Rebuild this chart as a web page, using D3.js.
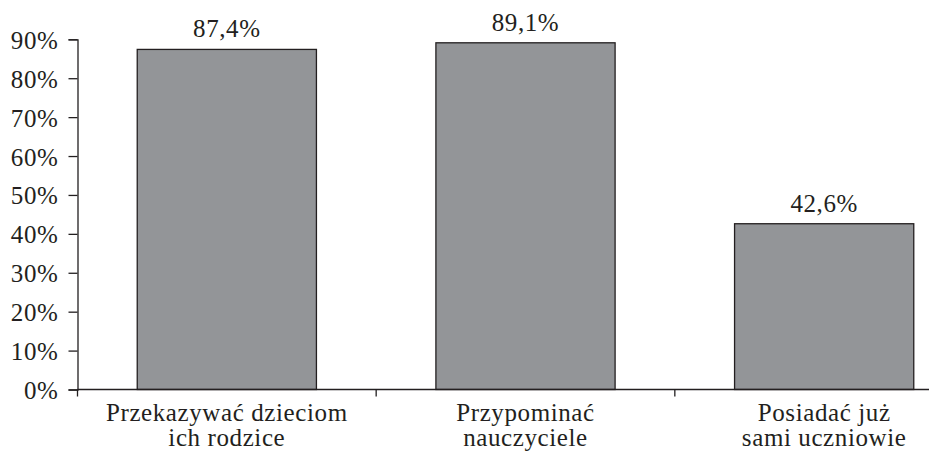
<!DOCTYPE html>
<html>
<head>
<meta charset="utf-8">
<script src="https://cdn.jsdelivr.net/npm/d3@7"></script>
<style>
  html, body { margin: 0; padding: 0; background: #fff; }
  svg { display: block; }
  text { font-family: "Liberation Serif", "Times New Roman", serif; fill: #231f20; letter-spacing: 0.6px; }
</style>
</head>
<body>
<svg id="chart" width="929" height="452"></svg>
<script>
// Who should pass the knowledge on (share of answers)
const categories = [
  ["Przekazywać dzieciom", "ich rodzice"],
  ["Przypominać", "nauczyciele"],
  ["Posiadać już", "sami uczniowie"]
];
const values = [87.4, 89.1, 42.6];
const valueLabels = ["87,4%", "89,1%", "42,6%"];
const yTicks = [0, 10, 20, 30, 40, 50, 60, 70, 80, 90];

const svg = d3.select("#chart");
const ink = "#231f20";

const keys = categories.map((c, i) => i);
const x = d3.scaleBand()
  .domain(keys)
  .range([77.5, 973.5])
  .paddingInner(0.4)
  .paddingOuter(0.2);

const y = d3.scaleLinear()
  .domain([0, 90])
  .range([389.5, 39.3]);

// y axis
const yAxis = svg.append("g")
  .attr("transform", "translate(77.5,0)")
  .call(d3.axisLeft(y).tickValues(yTicks).tickSize(9).tickPadding(10)
    .tickFormat(d => d + "%"));
yAxis.select(".domain").attr("stroke", ink).attr("stroke-width", 1.3);
yAxis.selectAll(".tick line").attr("stroke", ink).attr("stroke-width", 1.3);
yAxis.selectAll(".tick text")
  .attr("font-size", 25)
  .attr("dy", "0.36em")
  .attr("fill", ink);

// bars
svg.append("g").selectAll("rect")
  .data(values)
  .join("rect")
  .attr("x", (d, i) => x(i))
  .attr("width", x.bandwidth())
  .attr("y", d => y(d))
  .attr("height", d => y(0) - y(d))
  .attr("fill", "#939598")
  .attr("stroke", ink)
  .attr("stroke-width", 1.3);

// value labels
svg.append("g").selectAll("text")
  .data(values)
  .join("text")
  .attr("x", (d, i) => x(i) + x.bandwidth() / 2)
  .attr("y", d => y(d) - 12)
  .attr("text-anchor", "middle")
  .attr("font-size", 25)
  .text((d, i) => valueLabels[i]);

// x axis line with boundary ticks between categories
const xg = svg.append("g");
xg.append("line")
  .attr("x1", 77.5).attr("x2", 929)
  .attr("y1", y(0)).attr("y2", y(0))
  .attr("stroke", ink).attr("stroke-width", 1.3);
const bounds = keys.map(i => x(i) - x.step() * x.paddingInner() / 2);
bounds[0] = 77.5;
xg.selectAll(".bt")
  .data(bounds)
  .join("line")
  .attr("class", "bt")
  .attr("x1", d => d).attr("x2", d => d)
  .attr("y1", y(0)).attr("y2", y(0) + 7)
  .attr("stroke", ink).attr("stroke-width", 1.3);

// category labels
const labels = svg.append("g").selectAll("text")
  .data(categories)
  .join("text")
  .attr("text-anchor", "middle")
  .attr("font-size", 25)
  .attr("x", (d, i) => x(i) + x.bandwidth() / 2)
  .attr("y", 421);
labels.selectAll("tspan")
  .data((d, i) => d.map(t => ({ t, i })))
  .join("tspan")
  .attr("x", d => x(d.i) + x.bandwidth() / 2)
  .attr("dy", (d, j) => j === 0 ? 0 : 24.5)
  .text(d => d.t);
</script>
</body>
</html>
